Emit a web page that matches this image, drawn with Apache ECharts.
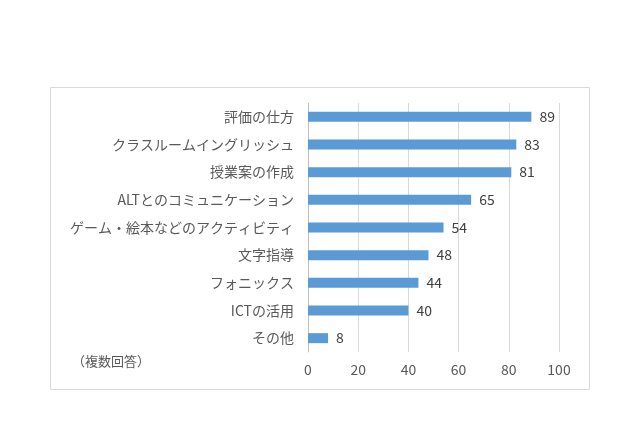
<!DOCTYPE html>
<html>
<head>
<meta charset="utf-8">
<title>ECharts</title>
<script src="https://cdn.jsdelivr.net/npm/echarts@6/dist/echarts.min.js"></script>
<style type="text/css">
html, body { margin: 0; padding: 0; background: #fff; }
#main { width: 640px; height: 426px; }
</style>
</head>
<body>
<div id="main"></div>
<script type="text/javascript">
// 上から順の項目（yAxis は下から描くので inverse を使う）
var categories = ['評価の仕方', 'クラスルームイングリッシュ', '授業案の作成', 'ALTとのコミュニケーション',
    'ゲーム・絵本などのアクティビティ', '文字指導', 'フォニックス', 'ICTの活用', 'その他'];
var counts = [89, 83, 81, 65, 54, 48, 44, 40, 8];
var xTicks = [0, 20, 40, 60, 80, 100];

var font = '"Noto Sans CJK JP", sans-serif';
var chart = echarts.init(document.getElementById('main'));
chart.setOption({
    animation: false,
    textStyle: { fontFamily: font },
    grid: { left: 308, right: 81, top: 103, bottom: 74 },
    graphic: [
        { type: 'rect', shape: { x: 50.5, y: 87.5, width: 539, height: 302 },
          style: { fill: 'none', stroke: '#d9d9d9', lineWidth: 1 } },
        { type: 'text', left: 72, top: 355,
          style: { text: '（複数回答）', fill: '#595959', font: '13px ' + font } }
    ],
    xAxis: {
        type: 'value', min: xTicks[0], max: xTicks[xTicks.length - 1], interval: 20,
        axisLine: { show: false }, axisTick: { show: false },
        axisLabel: { color: '#595959', fontSize: 14, margin: 11 },
        splitLine: { lineStyle: { color: '#d9d9d9' } }
    },
    yAxis: {
        type: 'category', data: categories, inverse: true,
        axisLine: { lineStyle: { color: '#bfbfbf' } }, axisTick: { show: false },
        axisLabel: { color: '#595959', fontSize: 14, margin: 14 }
    },
    series: [{
        type: 'bar', data: counts, barWidth: 10,
        itemStyle: { color: '#5b9bd5' },
        label: { show: true, position: 'right', distance: 8, color: '#404040', fontSize: 14 }
    }]
});
</script>
</body>
</html>
